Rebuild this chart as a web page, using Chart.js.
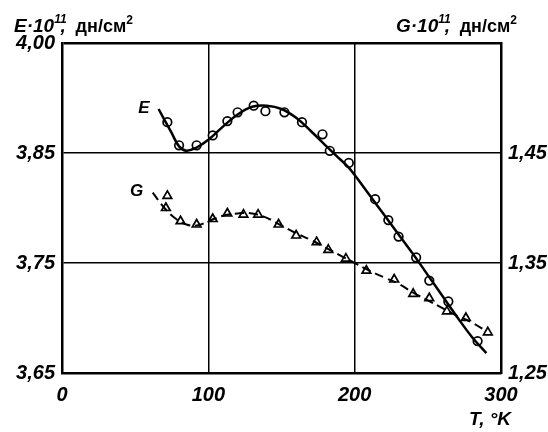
<!DOCTYPE html>
<html lang="ru">
<head>
    <meta charset="UTF-8">
    <title>E, G (T)</title>
    <style>
        body { margin: 0; background: #fff; }
        #wrap { width: 548px; height: 432px; }
    </style>
    <script src="https://cdn.jsdelivr.net/npm/chart.js"></script>
</head>
<body>
    <div id="wrap"><canvas id="chart" width="548" height="432"></canvas></div>

    <script>
        // модуль Юнга E (левая ось), точки
        const T_E = [72, 80, 92, 103, 113, 120, 131, 139, 152, 164, 178, 183, 196, 214, 223, 230, 242, 251, 264, 284];
        const E_VALUES = [3.878, 3.857, 3.857, 3.866, 3.879, 3.887, 3.893, 3.888, 3.887, 3.878, 3.867, 3.852, 3.841, 3.808, 3.789, 3.774, 3.755, 3.734, 3.715, 3.679];
        // сглаженная кривая E
        const T_E_CURVE = [66, 75, 80, 85, 92, 100, 110, 120, 130, 140, 150, 160, 170, 180, 187, 195, 200, 210, 220, 230, 240, 250, 260, 270, 280, 290];
        const E_CURVE = [3.890, 3.868, 3.856, 3.852, 3.855, 3.862, 3.874, 3.885, 3.892, 3.893, 3.890, 3.882, 3.870, 3.857, 3.848, 3.838, 3.830, 3.812, 3.794, 3.776, 3.758, 3.739, 3.720, 3.701, 3.683, 3.668];

        // модуль сдвига G (правая ось), точки
        const T_G = [72, 71, 81, 92, 103, 113, 124, 134, 148, 160, 174, 182, 194, 208, 227, 240, 251, 263, 276, 291];
        const G_VALUES = [1.411, 1.400, 1.388, 1.385, 1.390, 1.395, 1.394, 1.394, 1.385, 1.375, 1.369, 1.362, 1.354, 1.343, 1.335, 1.322, 1.318, 1.306, 1.300, 1.287];
        // кривая G (пунктир)
        const T_G_CURVE = [62, 70, 78, 85, 92, 100, 110, 120, 130, 140, 150, 160, 170, 180, 190, 200, 210, 220, 230, 240, 250, 260, 270, 280, 290];
        const G_CURVE = [1.414, 1.400, 1.390, 1.385, 1.384, 1.388, 1.393, 1.395, 1.395, 1.391, 1.384, 1.377, 1.371, 1.364, 1.357, 1.350, 1.343, 1.337, 1.331, 1.323, 1.316, 1.309, 1.302, 1.296, 1.288];

        // подписи делений
        const X_TICKS = ['0', '100', '200', '300'];
        const E_TICKS = ['3,65', '3,75', '3,85', '4,00'];
        const G_TICKS = ['1,25', '1,35', '1,45', ''];

        const FONT = '"Liberation Sans", Arial, sans-serif';

        function pts(xs, ys) {
            return xs.map((x, i) => ({ x: x, y: ys[i] }));
        }

        // надписи: заголовки осей, буквы E и G у кривых
        const textPlugin = {
            id: 'texts',
            afterDraw(chart) {
                const c = chart.ctx;
                const xs = chart.scales.x, ye = chart.scales.yE, yg = chart.scales.yG;
                c.save();
                c.fillStyle = '#000';
                c.textBaseline = 'alphabetic';

                // кусочки текста: [строка, шрифт, подъём]
                function title(x, y, letter) {
                    const parts = [
                        [letter + '·10', 'italic bold 19px ', 0, 0],
                        ['11', 'italic bold 12px ', 9, 0],
                        [',', 'italic bold 19px ', 0, 5],
                        ['дн/см', 'bold 18px ', 0, 0],
                        ['2', 'bold 12px ', 8, 0]
                    ];
                    let cx = x;
                    parts.forEach(p => {
                        c.font = p[1] + FONT;
                        c.fillText(p[0], cx - (p[0] === ',' ? 10 : 0), y - p[2]);
                        cx += (p[0] === ',' ? 0 : c.measureText(p[0]).width) + p[3];
                        if (p[0] === '11') cx += 4;
                    });
                }
                title(14, 32, 'E');
                title(396, 32, 'G');

                c.font = 'italic bold 17px ' + FONT;
                c.textAlign = 'center';
                c.textBaseline = 'middle';
                c.fillText('E', xs.getPixelForValue(56), ye.getPixelForValue(3.891));
                c.fillText('G', xs.getPixelForValue(51), yg.getPixelForValue(1.415));

                c.font = 'italic bold 19px ' + FONT;
                c.fillText('T, °K', 490, 420);
                c.restore();
            }
        };

        new Chart(document.getElementById('chart'), {
            type: 'scatter',
            data: {
                datasets: [
                    {
                        label: 'E кривая',
                        data: pts(T_E_CURVE, E_CURVE),
                        yAxisID: 'yE',
                        showLine: true,
                        borderColor: '#000',
                        borderWidth: 2.5,
                        pointRadius: 0,
                        tension: 0.4
                    },
                    {
                        label: 'E',
                        data: pts(T_E, E_VALUES),
                        yAxisID: 'yE',
                        pointStyle: 'circle',
                        pointRadius: 4.3,
                        pointBorderWidth: 1.7,
                        pointBackgroundColor: '#fff',
                        pointBorderColor: '#000'
                    },
                    {
                        label: 'G кривая',
                        data: pts(T_G_CURVE, G_CURVE),
                        yAxisID: 'yG',
                        showLine: true,
                        borderColor: '#000',
                        borderWidth: 2,
                        borderDash: [9, 5],
                        pointRadius: 0,
                        tension: 0.4
                    },
                    {
                        label: 'G',
                        data: pts(T_G, G_VALUES),
                        yAxisID: 'yG',
                        pointStyle: 'triangle',
                        pointRadius: 5,
                        pointBorderWidth: 1.7,
                        pointBackgroundColor: '#fff',
                        pointBorderColor: '#000'
                    }
                ]
            },
            options: {
                responsive: false,
                animation: false,
                layout: { padding: { top: 43, left: 0, right: 0, bottom: 0 } },
                plugins: {
                    legend: { display: false },
                    tooltip: { enabled: false }
                },
                scales: {
                    x: {
                        type: 'linear',
                        min: 0,
                        max: 300,
                        ticks: {
                            stepSize: 100,
                            padding: 10,
                            color: '#000',
                            font: { family: FONT, size: 20, style: 'italic', weight: 'bold' },
                            callback: (v, i) => X_TICKS[i]
                        },
                        grid: { color: '#000', lineWidth: 1.5, drawTicks: false },
                        border: { color: '#000', width: 2.5 },
                        afterFit: (s) => { s.height = 59; }
                    },
                    yE: {
                        type: 'linear',
                        position: 'left',
                        min: 3.65,
                        max: 3.95,
                        ticks: {
                            stepSize: 0.1,
                            padding: 7,
                            color: '#000',
                            font: { family: FONT, size: 20, style: 'italic', weight: 'bold' },
                            callback: (v, i) => E_TICKS[i]
                        },
                        grid: {
                            color: '#000',
                            lineWidth: (ctx) => ctx.index === 3 ? 2.5 : 1.5,
                            drawTicks: false
                        },
                        border: { color: '#000', width: 2.5 },
                        afterFit: (s) => { s.width = 62; }
                    },
                    yG: {
                        type: 'linear',
                        position: 'right',
                        min: 1.25,
                        max: 1.55,
                        ticks: {
                            stepSize: 0.1,
                            padding: 7,
                            color: '#000',
                            font: { family: FONT, size: 20, style: 'italic', weight: 'bold' },
                            callback: (v, i) => G_TICKS[i]
                        },
                        grid: { drawOnChartArea: false, drawTicks: false },
                        border: { color: '#000', width: 2.5 },
                        afterFit: (s) => { s.width = 47; }
                    }
                }
            },
            plugins: [textPlugin]
        });
    </script>
</body>
</html>
